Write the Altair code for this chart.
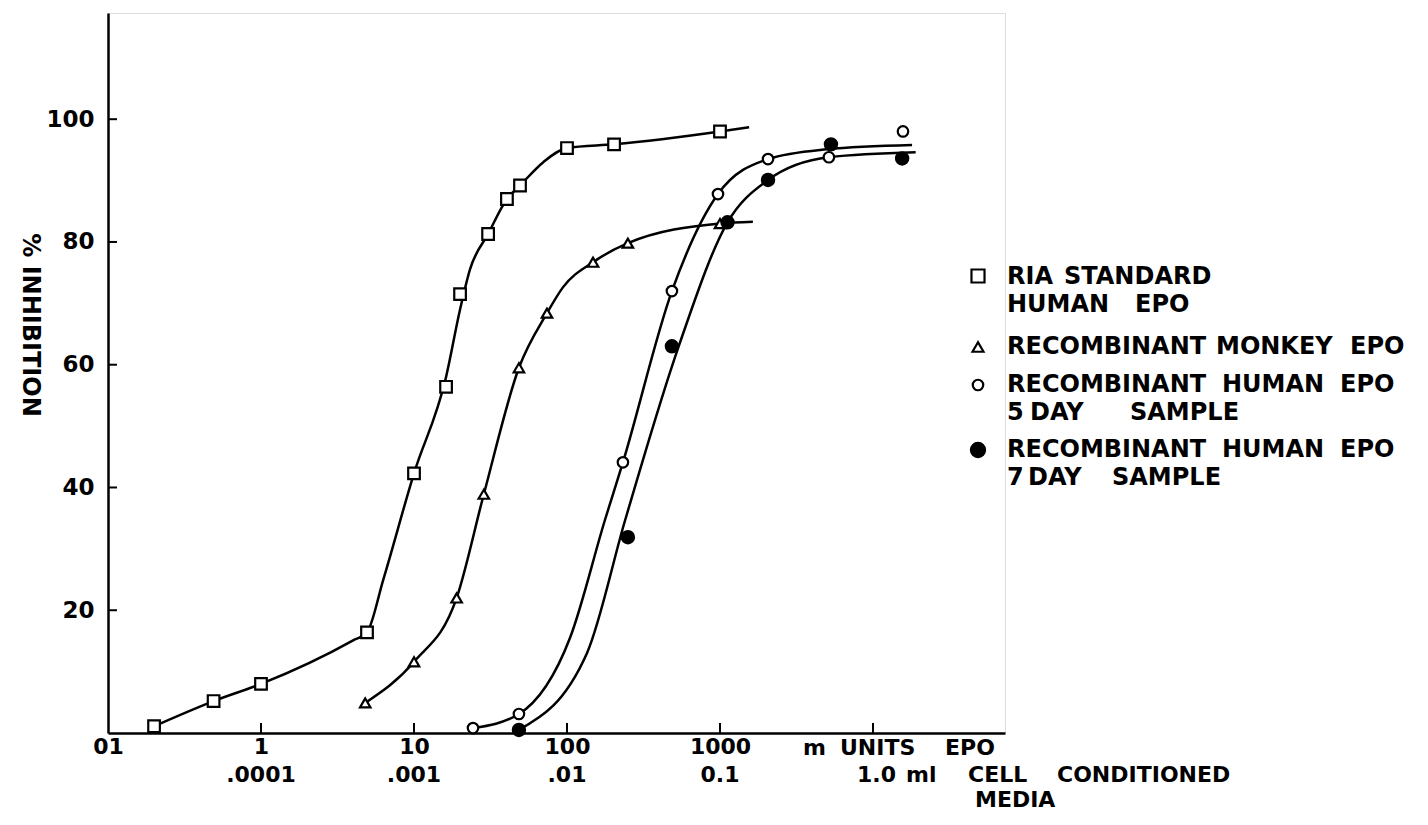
import altair as alt
import pandas as pd

FONT = "DejaVu Sans"
BOLD = "bold"

# ---- data ----
# RIA standard human EPO (open squares)
sq_x = [0.2, 0.49, 1, 4.93, 10, 16.2, 20, 30.5, 40.5, 49.3, 100, 203, 1000]
sq_y = [1.1, 5.2, 8, 16.4, 42.3, 56.4, 71.5, 81.3, 87, 89.2, 95.3, 95.9, 98]
sq_cx = [0.2, 0.49, 1, 4.0, 4.93, 6.3, 10, 16.2, 20, 23.2, 30.5, 40.5, 49.3, 70, 100, 203, 1000, 1550]
sq_cy = [1.1, 5.2, 8, 15.1, 16.4, 25, 42.3, 58, 69, 75.5, 81.3, 87, 89.2, 93, 95.3, 95.9, 98, 98.7]

# Recombinant monkey EPO (open triangles)
tri_x = [4.8, 10, 19, 28.6, 48.5, 74, 148, 250, 1000]
tri_y = [4.9, 11.6, 22, 38.9, 59.5, 68.4, 76.7, 79.8, 83]
tri_cx = [4.8, 10, 19, 28.6, 48.5, 74, 94, 148, 250, 1000, 1640]
tri_cy = [4.9, 11.6, 22, 38.9, 59.5, 68.4, 72.6, 76.7, 79.8, 83, 83.3]

# Recombinant human EPO, 5 day sample (open circles)
oc_x = [24.3, 48.5, 232, 485, 970, 2060, 5150, 15700]
oc_y = [0.8, 3.1, 44.1, 72, 87.8, 93.5, 93.8, 98]
oc_cx = [24.3, 48.5, 105, 177, 232, 485, 970, 2060, 5000, 18000]
oc_cy = [0.8, 3.1, 15.6, 34.7, 44.1, 72, 87.8, 93.5, 95.1, 95.8]

# Recombinant human EPO, 7 day sample (filled circles)
fc_x = [48.5, 250, 485, 1120, 2060, 5310, 15500]
fc_y = [0.5, 31.9, 63, 83.2, 90.1, 95.9, 93.6]
fc_cx = [48.5, 135, 240, 537, 1120, 2060, 5150, 19000]
fc_cy = [0.5, 13, 34.7, 63, 83.2, 90.1, 93.8, 94.6]

x_tick_vals = [0.1, 1, 10, 100, 1000]
x_tick_marks = [1, 10, 100, 1000, 10000]
y_tick_vals = [20, 40, 60, 80, 100]
row2_vals = [1, 10, 100, 1000]
row2_labels = [".0001", ".001", ".01", "0.1"]

# legend words with their page positions (left x, centre y)
legend_words = [
    ("RIA", 1007, 277), ("STANDARD", 1064, 277),
    ("HUMAN", 1007, 305), ("EPO", 1135, 305),
    ("RECOMBINANT", 1007, 347), ("MONKEY", 1216, 347), ("EPO", 1350, 347),
    ("RECOMBINANT", 1007, 385), ("HUMAN", 1222, 385), ("EPO", 1340, 385),
    ("5", 1007, 413), ("DAY", 1030, 413), ("SAMPLE", 1130, 413),
    ("RECOMBINANT", 1007, 450), ("HUMAN", 1222, 450), ("EPO", 1340, 450),
    ("7", 1007, 478), ("DAY", 1028, 478), ("SAMPLE", 1112, 478),
]
axis_words = [
    ("m", 803, 748), ("UNITS", 840, 748), ("EPO", 945, 748),
    ("1.0", 857, 775), ("ml", 906, 775), ("CELL", 968, 775), ("CONDITIONED", 1057, 775),
    ("MEDIA", 975, 800),
]

W, H = 897, 720
xs = alt.Scale(type="log", domain=[0.1, 72900], nice=False)
ys = alt.Scale(domain=[0, 117.3], nice=False, zero=False)

X = alt.X("x:Q", scale=xs, axis=alt.Axis(
    values=x_tick_vals, ticks=False, grid=False, domainColor="black", domainWidth=2.5,
    labelExpr="datum.value < 0.5 ? '01' : format(datum.value, 'd')",
    labelFont=FONT, labelFontSize=22, labelFontWeight=BOLD, labelColor="black",
    labelPadding=3, labelFlush=False, labelOverlap=False, title=None))
Y = alt.Y("y:Q", scale=ys, axis=alt.Axis(
    values=y_tick_vals, ticks=False, grid=False, domainColor="black", domainWidth=2.5,
    labelFont=FONT, labelFontSize=23, labelFontWeight=BOLD, labelColor="black",
    labelPadding=14, labelFlush=False, labelOverlap=False, title=None))


def df(xv, yv):
    return pd.DataFrame({"x": xv, "y": yv})


def curve(xv, yv):
    return alt.Chart(df(xv, yv)).mark_line(
        color="black", strokeWidth=2.5, interpolate="monotone", clip=False
    ).encode(x=X, y=Y)


def pts(xv, yv, shape, size, fill):
    return alt.Chart(df(xv, yv)).mark_point(
        shape=shape, size=size, filled=True, fill=fill, stroke="black",
        strokeWidth=2.2, opacity=1
    ).encode(x=X, y=Y)


def txt(s, px, py, size=22, align="left", angle=0):
    kw = dict(font=FONT, fontSize=size, fontWeight=BOLD, align=align,
              baseline="middle", color="black")
    if angle:
        kw["angle"] = angle
    return alt.Chart(pd.DataFrame({"t": [s]})).mark_text(**kw).encode(
        text="t:N", x=alt.value(px), y=alt.value(py))


def legsym(shape, size, fill, px, py):
    return alt.Chart(pd.DataFrame({"t": [0]})).mark_point(
        shape=shape, size=size, filled=True, fill=fill, stroke="black",
        strokeWidth=2.2, opacity=1
    ).encode(x=alt.value(px), y=alt.value(py))


ox, oy = 108, 13  # plot origin on the page

layers = [
    curve(sq_cx, sq_cy), curve(tri_cx, tri_cy), curve(oc_cx, oc_cy), curve(fc_cx, fc_cy),
    pts(sq_x, sq_y, "square", 135, "white"),
    pts(tri_x, tri_y, "triangle-up", 110, "white"),
    pts(oc_x, oc_y, "circle", 110, "white"),
    pts(fc_x, fc_y, "circle", 150, "black"),
    # inward ticks
    alt.Chart(pd.DataFrame({"x": x_tick_marks})).mark_rule(color="black", strokeWidth=2).encode(
        x=alt.X("x:Q", scale=xs), y=alt.value(H - 10), y2=alt.value(H)),
    alt.Chart(pd.DataFrame({"y": y_tick_vals})).mark_rule(color="black", strokeWidth=2).encode(
        y=alt.Y("y:Q", scale=ys), x=alt.value(0), x2=alt.value(9)),
    # second x label row
    alt.Chart(pd.DataFrame({"x": row2_vals, "t": row2_labels})).mark_text(
        font=FONT, fontSize=22, fontWeight=BOLD, align="center", baseline="middle",
        color="black").encode(
        x=alt.X("x:Q", scale=xs), y=alt.value(775 - oy), text="t:N"),
    txt("% INHIBITION", 30 - ox, 325 - oy, 24, align="center", angle=90),
    # legend symbols
    legsym("square", 170, "white", 978 - ox, 276 - oy),
    legsym("triangle-up", 120, "white", 978 - ox, 347 - oy),
    legsym("circle", 110, "white", 978 - ox, 385 - oy),
    legsym("circle", 200, "black", 978 - ox, 450 - oy),
]
for s, px, py in legend_words:
    layers.append(txt(s, px - ox, py - oy, 24))
for s, px, py in axis_words:
    layers.append(txt(s, px - ox, py - oy, 22))

chart = alt.layer(*layers).properties(
    width=W, height=H,
    autosize=alt.AutoSizeParams(type="none"),
    padding={"left": 100, "top": 5, "right": 412, "bottom": 82},
).configure_view(stroke=None).configure(background="white")

chart.save("out.html", embed_options={"renderer": "svg", "actions": False})
